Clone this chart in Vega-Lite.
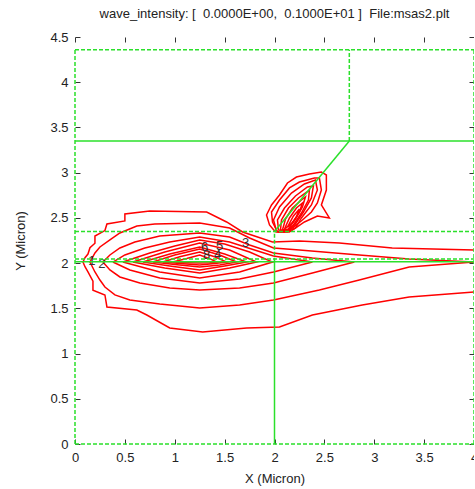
{
  "$schema": "https://vega.github.io/schema/vega-lite/v6.json",
  "width": 399,
  "height": 407,
  "autosize": {"type": "none"},
  "padding": {"left": 75, "top": 37, "right": 0, "bottom": 45},
  "title": {"text": "wave_intensity: [\u00a0 0.0000E+00,\u00a0 0.1000E+01 ]\u00a0 File:msas2.plt", "fontSize": 13, "fontWeight": "normal", "font": "Liberation Sans", "color": "#222", "offset": 10, "anchor": "middle"},
  "config": {
    "view": {"stroke": null},
    "font": "Liberation Sans",
    "axis": {"grid": false, "domain": false, "tickSize": -5, "tickColor": "#333", "tickWidth": 1, "labelFontSize": 13, "labelColor": "#222", "labelFont": "Liberation Sans", "titleFont": "Liberation Sans", "titleFontSize": 13, "titleFontWeight": "normal", "titleColor": "#222", "labelFlush": false, "labelOverlap": false, "format": "~g"}
  },
  "datasets": {
    "contours": [
      {"c":"a1","o":1,"x":4.0,"y":2.145},{"c":"a1","o":2,"x":3.18,"y":2.167},{"c":"a1","o":3,"x":2.65,"y":2.222},{"c":"a1","o":4,"x":2.25,"y":2.245},{"c":"a1","o":5,"x":1.98,"y":2.234},{"c":"a1","o":6,"x":1.68,"y":2.344},{"c":"a1","o":7,"x":1.52,"y":2.455},{"c":"a1","o":8,"x":1.32,"y":2.565},{"c":"a1","o":9,"x":0.75,"y":2.576},{"c":"a1","o":10,"x":0.5,"y":2.543},{"c":"a1","o":11,"x":0.5,"y":2.466},{"c":"a1","o":12,"x":0.32,"y":2.433},{"c":"a1","o":13,"x":0.3,"y":2.36},{"c":"a1","o":14,"x":0.2,"y":2.3},{"c":"a1","o":15,"x":0.2,"y":2.22},{"c":"a1","o":16,"x":0.15,"y":2.17},{"c":"a1","o":17,"x":0.13,"y":2.1},{"c":"a1","o":18,"x":0.1,"y":2.06},{"c":"a1","o":19,"x":0.08,"y":2.012},{"c":"a1","o":20,"x":0.1,"y":1.96},{"c":"a1","o":21,"x":0.13,"y":1.902},{"c":"a1","o":22,"x":0.18,"y":1.8},{"c":"a1","o":23,"x":0.18,"y":1.7},{"c":"a1","o":24,"x":0.3,"y":1.648},{"c":"a1","o":25,"x":0.32,"y":1.515},{"c":"a1","o":26,"x":0.62,"y":1.482},{"c":"a1","o":27,"x":0.72,"y":1.426},{"c":"a1","o":28,"x":0.95,"y":1.283},{"c":"a1","o":29,"x":1.28,"y":1.238},{"c":"a1","o":30,"x":1.72,"y":1.283},{"c":"a1","o":31,"x":2.05,"y":1.294},{"c":"a1","o":32,"x":2.38,"y":1.426},{"c":"a1","o":33,"x":2.88,"y":1.537},{"c":"a1","o":34,"x":3.35,"y":1.625},{"c":"a1","o":35,"x":4.0,"y":1.681},

      {"c":"a2","o":1,"x":4.0,"y":2.012},{"c":"a2","o":2,"x":3.35,"y":2.046},{"c":"a2","o":3,"x":2.85,"y":2.09},{"c":"a2","o":4,"x":2.25,"y":2.145},{"c":"a2","o":5,"x":1.99,"y":2.167},{"c":"a2","o":6,"x":1.75,"y":2.278},{"c":"a2","o":7,"x":1.55,"y":2.388},{"c":"a2","o":8,"x":1.25,"y":2.444},{"c":"a2","o":9,"x":0.8,"y":2.433},{"c":"a2","o":10,"x":0.62,"y":2.41},{"c":"a2","o":11,"x":0.45,"y":2.333},{"c":"a2","o":12,"x":0.35,"y":2.256},{"c":"a2","o":13,"x":0.25,"y":2.178},{"c":"a2","o":14,"x":0.2,"y":2.112},{"c":"a2","o":15,"x":0.15,"y":2.012},{"c":"a2","o":16,"x":0.2,"y":1.902},{"c":"a2","o":17,"x":0.25,"y":1.813},{"c":"a2","o":18,"x":0.3,"y":1.736},{"c":"a2","o":19,"x":0.4,"y":1.648},{"c":"a2","o":20,"x":0.55,"y":1.592},{"c":"a2","o":21,"x":0.85,"y":1.548},{"c":"a2","o":22,"x":1.25,"y":1.504},{"c":"a2","o":23,"x":1.65,"y":1.537},{"c":"a2","o":24,"x":1.99,"y":1.592},{"c":"a2","o":25,"x":2.45,"y":1.703},{"c":"a2","o":26,"x":2.85,"y":1.813},{"c":"a2","o":27,"x":3.35,"y":1.957},{"c":"a2","o":28,"x":4.0,"y":2.012},

      {"c":"a3","o":1,"x":0.28,"y":2.012},{"c":"a3","o":2,"x":0.35,"y":2.09},{"c":"a3","o":3,"x":0.45,"y":2.167},{"c":"a3","o":4,"x":0.6,"y":2.234},{"c":"a3","o":5,"x":0.85,"y":2.3},{"c":"a3","o":6,"x":1.25,"y":2.333},{"c":"a3","o":7,"x":1.55,"y":2.289},{"c":"a3","o":8,"x":1.75,"y":2.2},{"c":"a3","o":9,"x":1.99,"y":2.112},{"c":"a3","o":10,"x":2.38,"y":2.057},{"c":"a3","o":11,"x":2.8,"y":2.012},{"c":"a3","o":12,"x":2.38,"y":1.891},{"c":"a3","o":13,"x":1.99,"y":1.78},{"c":"a3","o":14,"x":1.65,"y":1.725},{"c":"a3","o":15,"x":1.25,"y":1.703},{"c":"a3","o":16,"x":0.95,"y":1.725},{"c":"a3","o":17,"x":0.65,"y":1.78},{"c":"a3","o":18,"x":0.45,"y":1.847},{"c":"a3","o":19,"x":0.35,"y":1.924},{"c":"a3","o":20,"x":0.28,"y":2.012},

      {"c":"a4","o":1,"x":0.38,"y":2.012},{"c":"a4","o":2,"x":0.5,"y":2.09},{"c":"a4","o":3,"x":0.7,"y":2.167},{"c":"a4","o":4,"x":0.95,"y":2.234},{"c":"a4","o":5,"x":1.25,"y":2.289},{"c":"a4","o":6,"x":1.55,"y":2.234},{"c":"a4","o":7,"x":1.8,"y":2.145},{"c":"a4","o":8,"x":1.99,"y":2.079},{"c":"a4","o":9,"x":2.38,"y":2.012},{"c":"a4","o":10,"x":1.99,"y":1.902},{"c":"a4","o":11,"x":1.65,"y":1.824},{"c":"a4","o":12,"x":1.25,"y":1.78},{"c":"a4","o":13,"x":0.85,"y":1.835},{"c":"a4","o":14,"x":0.55,"y":1.924},{"c":"a4","o":15,"x":0.38,"y":2.012},

      {"c":"a5","o":1,"x":0.48,"y":2.012},{"c":"a5","o":2,"x":0.75,"y":2.112},{"c":"a5","o":3,"x":1.0,"y":2.189},{"c":"a5","o":4,"x":1.25,"y":2.256},{"c":"a5","o":5,"x":1.5,"y":2.211},{"c":"a5","o":6,"x":1.75,"y":2.123},{"c":"a5","o":7,"x":1.98,"y":2.012},{"c":"a5","o":8,"x":1.65,"y":1.902},{"c":"a5","o":9,"x":1.25,"y":1.835},{"c":"a5","o":10,"x":0.85,"y":1.902},{"c":"a5","o":11,"x":0.48,"y":2.012},

      {"c":"a6","o":1,"x":0.58,"y":2.012},{"c":"a6","o":2,"x":0.9,"y":2.123},{"c":"a6","o":3,"x":1.25,"y":2.222},{"c":"a6","o":4,"x":1.55,"y":2.145},{"c":"a6","o":5,"x":1.82,"y":2.012},{"c":"a6","o":6,"x":1.55,"y":1.946},{"c":"a6","o":7,"x":1.25,"y":1.891},{"c":"a6","o":8,"x":0.9,"y":1.946},{"c":"a6","o":9,"x":0.58,"y":2.012},

      {"c":"a7","o":1,"x":0.68,"y":2.012},{"c":"a7","o":2,"x":0.95,"y":2.101},{"c":"a7","o":3,"x":1.25,"y":2.178},{"c":"a7","o":4,"x":1.5,"y":2.101},{"c":"a7","o":5,"x":1.72,"y":2.012},{"c":"a7","o":6,"x":1.5,"y":1.968},{"c":"a7","o":7,"x":1.25,"y":1.924},{"c":"a7","o":8,"x":0.95,"y":1.968},{"c":"a7","o":9,"x":0.68,"y":2.012},

      {"c":"a8","o":1,"x":0.78,"y":2.012},{"c":"a8","o":2,"x":1.0,"y":2.09},{"c":"a8","o":3,"x":1.25,"y":2.156},{"c":"a8","o":4,"x":1.45,"y":2.09},{"c":"a8","o":5,"x":1.62,"y":2.012},{"c":"a8","o":6,"x":1.45,"y":1.98},{"c":"a8","o":7,"x":1.25,"y":1.957},{"c":"a8","o":8,"x":1.0,"y":1.985},{"c":"a8","o":9,"x":0.78,"y":2.012},

      {"c":"a9","o":1,"x":0.88,"y":2.012},{"c":"a9","o":2,"x":1.05,"y":2.07},{"c":"a9","o":3,"x":1.25,"y":2.123},{"c":"a9","o":4,"x":1.4,"y":2.07},{"c":"a9","o":5,"x":1.52,"y":2.012},{"c":"a9","o":6,"x":1.4,"y":1.995},{"c":"a9","o":7,"x":1.25,"y":1.979},{"c":"a9","o":8,"x":1.05,"y":1.995},{"c":"a9","o":9,"x":0.88,"y":2.012},

      {"c":"a10","o":1,"x":0.98,"y":2.012},{"c":"a10","o":2,"x":1.12,"y":2.05},{"c":"a10","o":3,"x":1.25,"y":2.09},{"c":"a10","o":4,"x":1.35,"y":2.05},{"c":"a10","o":5,"x":1.42,"y":2.012},{"c":"a10","o":6,"x":1.35,"y":2.005},{"c":"a10","o":7,"x":1.25,"y":2.0},{"c":"a10","o":8,"x":1.12,"y":2.005},{"c":"a10","o":9,"x":0.98,"y":2.012},

      {"c":"b1","o":1,"x":2.01,"y":2.344},{"c":"b1","o":2,"x":1.95,"y":2.422},{"c":"b1","o":3,"x":1.92,"y":2.532},{"c":"b1","o":4,"x":1.97,"y":2.643},{"c":"b1","o":5,"x":2.05,"y":2.753},{"c":"b1","o":6,"x":2.13,"y":2.886},{"c":"b1","o":7,"x":2.22,"y":2.952},{"c":"b1","o":8,"x":2.35,"y":2.985},{"c":"b1","o":9,"x":2.47,"y":3.008},{"c":"b1","o":10,"x":2.52,"y":2.974},{"c":"b1","o":11,"x":2.52,"y":2.808},{"c":"b1","o":12,"x":2.47,"y":2.643},{"c":"b1","o":13,"x":2.55,"y":2.499},{"c":"b1","o":14,"x":2.43,"y":2.521},{"c":"b1","o":15,"x":2.3,"y":2.455},{"c":"b1","o":16,"x":2.21,"y":2.388},{"c":"b1","o":17,"x":2.13,"y":2.344},{"c":"b1","o":18,"x":2.01,"y":2.344},

      {"c":"b2","o":1,"x":2.03,"y":2.344},{"c":"b2","o":2,"x":1.98,"y":2.455},{"c":"b2","o":3,"x":1.97,"y":2.565},{"c":"b2","o":4,"x":2.05,"y":2.698},{"c":"b2","o":5,"x":2.15,"y":2.831},{"c":"b2","o":6,"x":2.25,"y":2.897},{"c":"b2","o":7,"x":2.4,"y":2.941},{"c":"b2","o":8,"x":2.45,"y":2.941},{"c":"b2","o":9,"x":2.47,"y":2.808},{"c":"b2","o":10,"x":2.43,"y":2.665},{"c":"b2","o":11,"x":2.37,"y":2.565},{"c":"b2","o":12,"x":2.28,"y":2.477},{"c":"b2","o":13,"x":2.18,"y":2.388},{"c":"b2","o":14,"x":2.1,"y":2.344},{"c":"b2","o":15,"x":2.03,"y":2.344},

      {"c":"b3","o":1,"x":2.02,"y":2.355},{"c":"b3","o":2,"x":1.99,"y":2.477},{"c":"b3","o":3,"x":2.05,"y":2.621},{"c":"b3","o":4,"x":2.17,"y":2.775},{"c":"b3","o":5,"x":2.3,"y":2.875},{"c":"b3","o":6,"x":2.41,"y":2.919},{"c":"b3","o":7,"x":2.43,"y":2.808},{"c":"b3","o":8,"x":2.37,"y":2.643},{"c":"b3","o":9,"x":2.27,"y":2.499},{"c":"b3","o":10,"x":2.21,"y":2.388},{"c":"b3","o":11,"x":2.15,"y":2.344},{"c":"b3","o":12,"x":2.02,"y":2.355},

      {"c":"b4","o":1,"x":2.04,"y":2.366},{"c":"b4","o":2,"x":2.03,"y":2.477},{"c":"b4","o":3,"x":2.1,"y":2.609},{"c":"b4","o":4,"x":2.21,"y":2.742},{"c":"b4","o":5,"x":2.33,"y":2.842},{"c":"b4","o":6,"x":2.39,"y":2.853},{"c":"b4","o":7,"x":2.37,"y":2.72},{"c":"b4","o":8,"x":2.29,"y":2.565},{"c":"b4","o":9,"x":2.21,"y":2.433},{"c":"b4","o":10,"x":2.14,"y":2.355},{"c":"b4","o":11,"x":2.04,"y":2.366},

      {"c":"b5","o":1,"x":2.06,"y":2.366},{"c":"b5","o":2,"x":2.07,"y":2.477},{"c":"b5","o":3,"x":2.14,"y":2.609},{"c":"b5","o":4,"x":2.24,"y":2.72},{"c":"b5","o":5,"x":2.35,"y":2.808},{"c":"b5","o":6,"x":2.34,"y":2.698},{"c":"b5","o":7,"x":2.27,"y":2.554},{"c":"b5","o":8,"x":2.19,"y":2.422},{"c":"b5","o":9,"x":2.12,"y":2.355},{"c":"b5","o":10,"x":2.06,"y":2.366},

      {"c":"b6","o":1,"x":2.08,"y":2.366},{"c":"b6","o":2,"x":2.11,"y":2.488},{"c":"b6","o":3,"x":2.18,"y":2.609},{"c":"b6","o":4,"x":2.27,"y":2.698},{"c":"b6","o":5,"x":2.31,"y":2.731},{"c":"b6","o":6,"x":2.28,"y":2.621},{"c":"b6","o":7,"x":2.21,"y":2.488},{"c":"b6","o":8,"x":2.14,"y":2.377},{"c":"b6","o":9,"x":2.08,"y":2.366},

      {"c":"b7","o":1,"x":2.1,"y":2.377},{"c":"b7","o":2,"x":2.15,"y":2.499},{"c":"b7","o":3,"x":2.22,"y":2.609},{"c":"b7","o":4,"x":2.28,"y":2.665},{"c":"b7","o":5,"x":2.25,"y":2.565},{"c":"b7","o":6,"x":2.18,"y":2.444},{"c":"b7","o":7,"x":2.1,"y":2.377},

      {"c":"b8","o":1,"x":2.13,"y":2.399},{"c":"b8","o":2,"x":2.19,"y":2.521},{"c":"b8","o":3,"x":2.25,"y":2.598},{"c":"b8","o":4,"x":2.22,"y":2.51},{"c":"b8","o":5,"x":2.16,"y":2.422},{"c":"b8","o":6,"x":2.13,"y":2.399}
    ],
    "green_dash": [
      {"x":0,"y":0,"x2":4,"y2":0},
      {"x":0,"y":0,"x2":0,"y2":4.36},
      {"x":4,"y":0,"x2":4,"y2":4.36},
      {"x":0,"y":4.36,"x2":4,"y2":4.36},
      {"x":0,"y":2.35,"x2":4,"y2":2.35},
      {"x":0,"y":2.045,"x2":4,"y2":2.045},
      {"x":2.75,"y":3.35,"x2":2.75,"y2":4.36},
      {"x":2,"y":2.015,"x2":2,"y2":2.35}
    ],
    "green_solid": [
      {"x":0,"y":3.35,"x2":4,"y2":3.35},
      {"x":2,"y":2.35,"x2":2.75,"y2":3.35},
      {"x":0,"y":2.015,"x2":4,"y2":2.015},
      {"x":2,"y":0,"x2":2,"y2":2.015}
    ],
    "labels": [
      {"t":"1","x":0.17,"y":2.02},
      {"t":"2","x":0.27,"y":1.99},
      {"t":"6","x":1.3,"y":2.18},
      {"t":"5","x":1.45,"y":2.19},
      {"t":"3","x":1.71,"y":2.22},
      {"t":"8","x":1.32,"y":2.09},
      {"t":"4","x":1.43,"y":2.09}
    ]
  },
  "layer": [
    {
      "data": {"name": "contours"},
      "mark": {"type": "line", "color": "#ff0000", "strokeWidth": 1.5, "interpolate": "linear"},
      "encoding": {
        "x": {"field": "x", "type": "quantitative", "scale": {"domain": [0, 4], "nice": false, "zero": false}, "axis": {"orient": "bottom", "values": [0,0.5,1,1.5,2,2.5,3,3.5,4], "title": "X (Micron)", "labelPadding": 12, "titlePadding": 8}},
        "y": {"field": "y", "type": "quantitative", "scale": {"domain": [0, 4.5], "nice": false, "zero": false}, "axis": {"orient": "left", "values": [0,0.5,1,1.5,2,2.5,3,3.5,4,4.5], "title": "Y (Micron)", "labelPadding": 12, "titlePadding": 22}},
        "detail": {"field": "c", "type": "nominal"},
        "order": {"field": "o", "type": "quantitative"}
      }
    },
    {
      "data": {"name": "labels"},
      "mark": {"type": "text", "fontSize": 13, "color": "#333", "font": "Liberation Sans"},
      "encoding": {
        "x": {"field": "x", "type": "quantitative", "axis": null},
        "y": {"field": "y", "type": "quantitative", "axis": null},
        "text": {"field": "t"}
      }
    },
    {
      "data": {"name": "green_dash"},
      "mark": {"type": "rule", "color": "#2be02b", "strokeWidth": 1.5, "strokeDash": [4, 2]},
      "encoding": {
        "x": {"field": "x", "type": "quantitative", "axis": {"orient": "top", "values": [0,0.5,1,1.5,2,2.5,3,3.5,4], "labels": false, "title": null}},
        "y": {"field": "y", "type": "quantitative", "axis": {"orient": "right", "values": [0,0.5,1,1.5,2,2.5,3,3.5,4,4.5], "labels": false, "title": null}},
        "x2": {"field": "x2"},
        "y2": {"field": "y2"}
      }
    },
    {
      "data": {"name": "green_solid"},
      "mark": {"type": "rule", "color": "#2be02b", "strokeWidth": 1.5},
      "encoding": {
        "x": {"field": "x", "type": "quantitative", "axis": null},
        "y": {"field": "y", "type": "quantitative", "axis": null},
        "x2": {"field": "x2"},
        "y2": {"field": "y2"}
      }
    }
  ],
  "resolve": {"axis": {"x": "independent", "y": "independent"}}
}
